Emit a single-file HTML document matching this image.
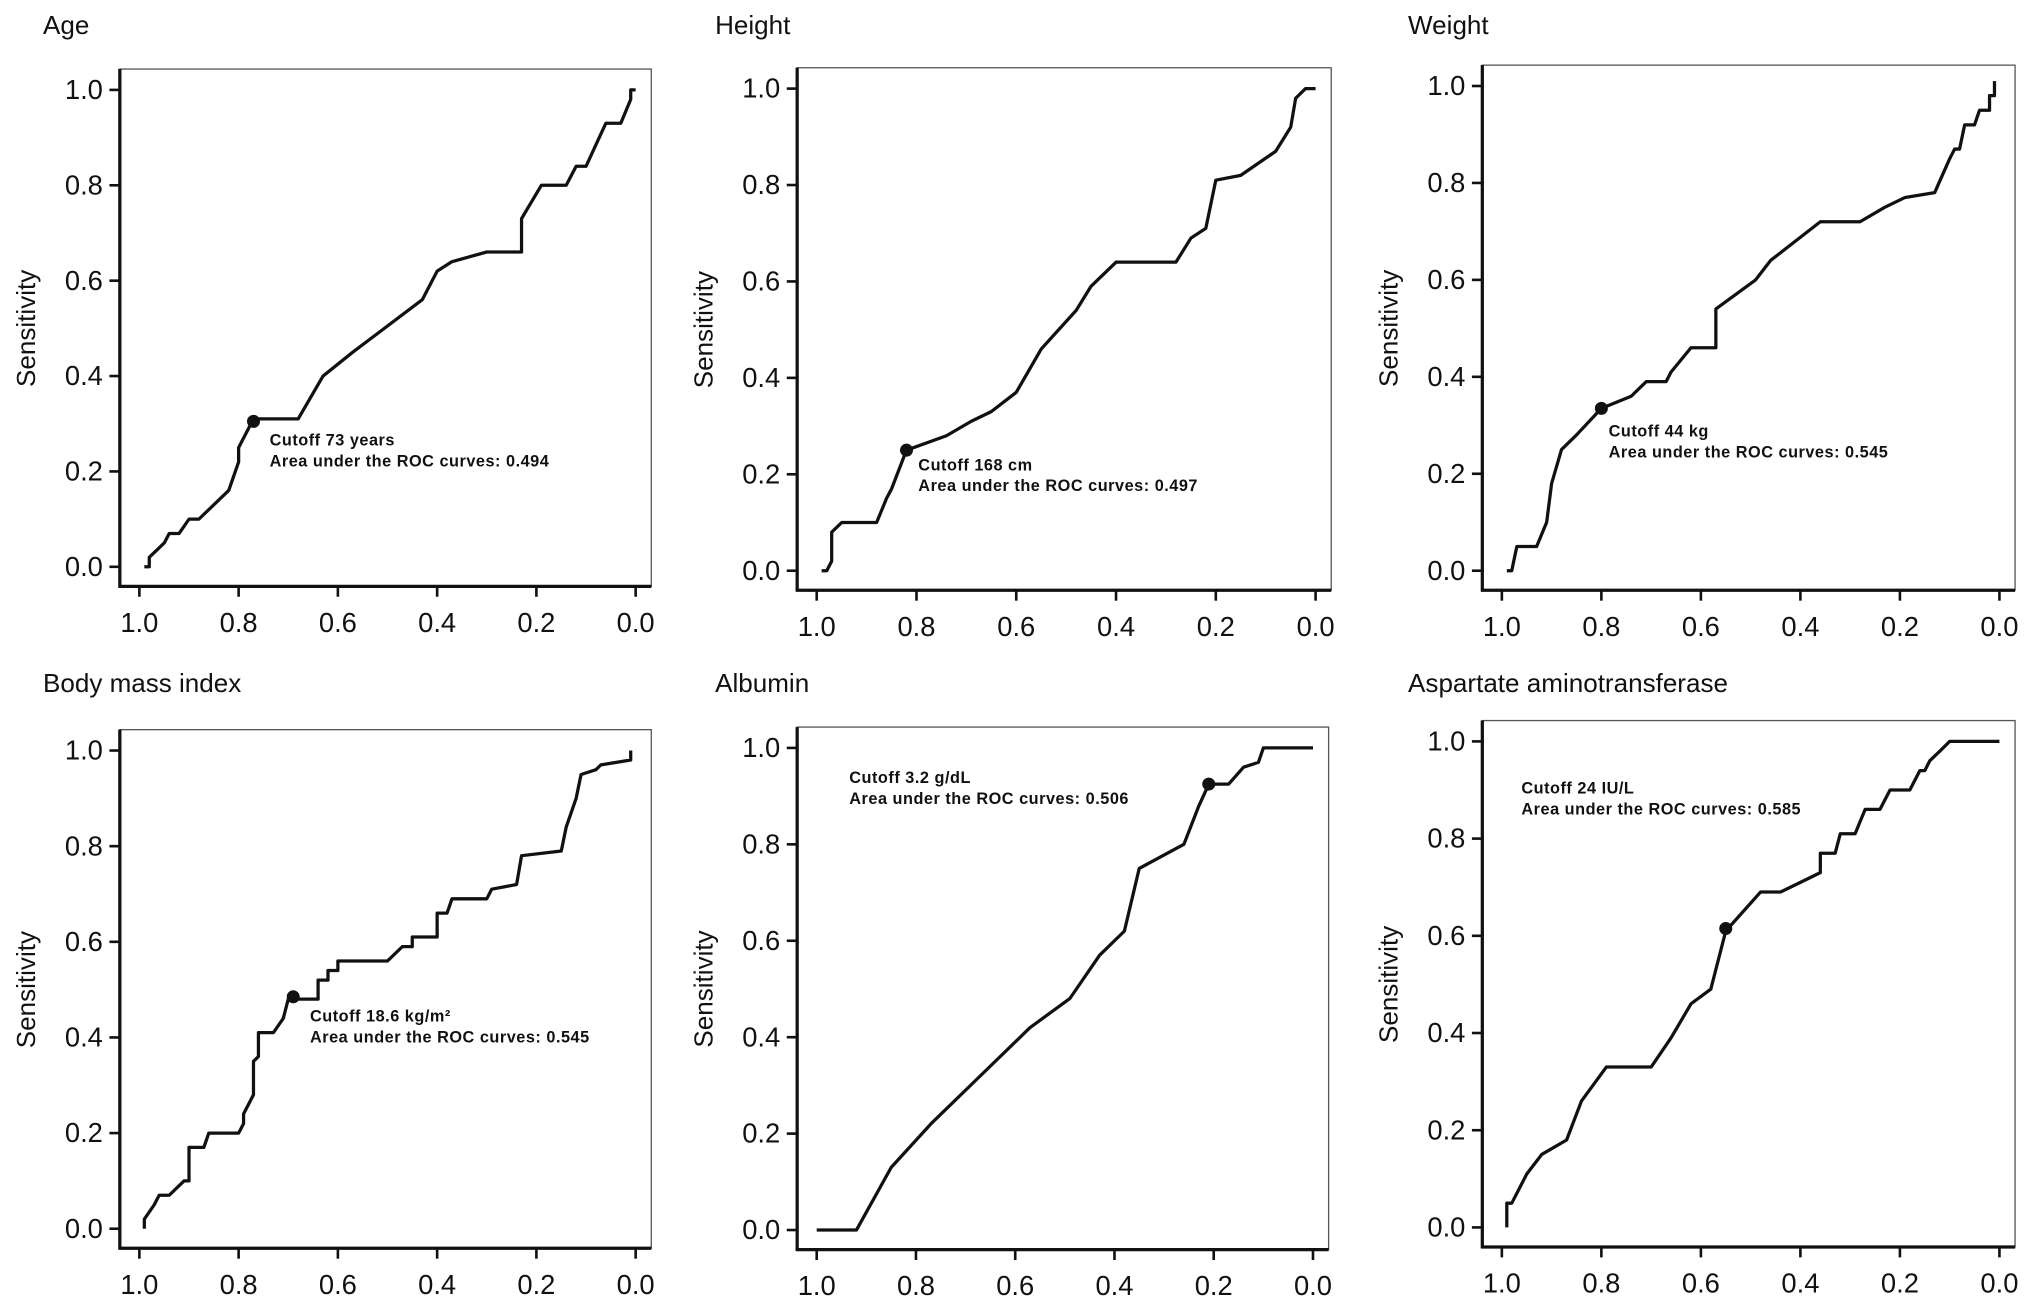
<!DOCTYPE html>
<html><head><meta charset="utf-8"><style>
html,body{margin:0;padding:0;background:#fff}
svg{display:block}
text{font-family:"Liberation Sans",Arial,sans-serif;fill:#111}
</style></head><body>
<svg id="fig" width="2032" height="1303" viewBox="0 0 1560 1000" preserveAspectRatio="none" xmlns="http://www.w3.org/2000/svg"></svg>
<script>
const panelTitles = ["Age","Height","Weight","Body mass index","Albumin","Aspartate aminotransferase"];
const tickLabels = ["1.0","0.8","0.6","0.4","0.2","0.0"];
const tickValues = [1.0,0.8,0.6,0.4,0.2,0.0];
const cutoffTexts = ["Cutoff 73 years","Cutoff 168 cm","Cutoff 44 kg","Cutoff 18.6 kg/m²","Cutoff 3.2 g/dL","Cutoff 24 IU/L"];
const aucValues = ["0.494","0.497","0.545","0.545","0.506","0.585"];
const ageSpec = [0.99,0.98,0.98,0.96,0.95,0.94,0.92,0.90,0.88,0.82,0.80,0.80,0.77,0.68,0.63,0.57,0.43,0.40,0.37,0.30,0.23,0.23,0.19,0.14,0.12,0.10,0.06,0.03,0.01,0.01,0];
const ageSens = [0,0,0.02,0.04,0.05,0.07,0.07,0.10,0.10,0.16,0.22,0.25,0.31,0.31,0.40,0.45,0.56,0.62,0.64,0.66,0.66,0.73,0.80,0.80,0.84,0.84,0.93,0.93,0.98,1.0,1.0];
const heightSpec = [0.99,0.98,0.97,0.97,0.95,0.88,0.86,0.85,0.82,0.74,0.69,0.65,0.60,0.55,0.48,0.45,0.40,0.28,0.25,0.22,0.20,0.15,0.08,0.05,0.04,0.02,0];
const heightSens = [0,0,0.02,0.08,0.10,0.10,0.15,0.17,0.25,0.28,0.31,0.33,0.37,0.46,0.54,0.59,0.64,0.64,0.69,0.71,0.81,0.82,0.87,0.92,0.98,1.0,1.0];
const weightSpec = [0.99,0.98,0.97,0.93,0.91,0.90,0.88,0.85,0.80,0.74,0.71,0.67,0.66,0.62,0.57,0.57,0.49,0.46,0.36,0.28,0.23,0.19,0.13,0.10,0.09,0.08,0.07,0.05,0.04,0.02,0.02,0.01,0.01];
const weightSens = [0,0,0.05,0.05,0.10,0.18,0.25,0.28,0.335,0.36,0.39,0.39,0.41,0.46,0.46,0.54,0.60,0.64,0.72,0.72,0.75,0.77,0.78,0.85,0.87,0.87,0.92,0.92,0.95,0.95,0.98,0.98,1.01];
const bmiSpec = [0.99,0.99,0.97,0.96,0.94,0.92,0.91,0.90,0.90,0.87,0.86,0.80,0.79,0.79,0.78,0.77,0.77,0.76,0.76,0.73,0.71,0.70,0.64,0.64,0.62,0.62,0.60,0.60,0.50,0.47,0.45,0.45,0.40,0.40,0.38,0.37,0.30,0.29,0.24,0.23,0.15,0.14,0.13,0.12,0.11,0.08,0.07,0.01,0.01];
const bmiSens = [0,0.02,0.05,0.07,0.07,0.09,0.10,0.10,0.17,0.17,0.20,0.20,0.22,0.24,0.26,0.28,0.35,0.36,0.41,0.41,0.44,0.48,0.48,0.52,0.52,0.54,0.54,0.56,0.56,0.59,0.59,0.61,0.61,0.66,0.66,0.69,0.69,0.71,0.72,0.78,0.79,0.84,0.87,0.90,0.95,0.96,0.97,0.98,1.0];
const albSpec = [1.0,0.92,0.85,0.77,0.67,0.57,0.49,0.43,0.38,0.35,0.26,0.23,0.21,0.17,0.14,0.11,0.10,0];
const albSens = [0,0,0.13,0.22,0.32,0.42,0.48,0.57,0.62,0.75,0.80,0.88,0.925,0.925,0.96,0.97,1.0,1.0];
const astSpec = [0.99,0.99,0.98,0.95,0.92,0.87,0.84,0.79,0.70,0.66,0.62,0.58,0.55,0.48,0.44,0.40,0.36,0.36,0.33,0.32,0.29,0.27,0.24,0.22,0.18,0.16,0.15,0.14,0.12,0.10,0];
const astSens = [0,0.05,0.05,0.11,0.15,0.18,0.26,0.33,0.33,0.39,0.46,0.49,0.61,0.69,0.69,0.71,0.73,0.77,0.77,0.81,0.81,0.86,0.86,0.90,0.90,0.94,0.94,0.96,0.98,1.0,1.0];
const cutSpec = [0.77,0.82,0.80,0.69,0.21,0.55];
const cutSens = [0.305,0.25,0.335,0.485,0.925,0.615];

const specSeries=[ageSpec,heightSpec,weightSpec,bmiSpec,albSpec,astSpec];
const sensSeries=[ageSens,heightSens,weightSens,bmiSens,albSens,astSens];
const L=[
 {x1:107,x0:488,y1:69,y0:435,tx:33,ty:26,ax:207,ay:342},
 {x1:627,x0:1010,y1:68,y0:438,tx:549,ty:26,ax:705,ay:361},
 {x1:1153,x0:1535,y1:66,y0:438,tx:1081,ty:26,ax:1235,ay:335},
 {x1:107,x0:488,y1:576,y0:943,tx:33,ty:531,ax:238,ay:784},
 {x1:627,x0:1008,y1:574,y0:944,tx:549,ty:531,ax:652,ay:601},
 {x1:1153,x0:1535,y1:569,y0:942,tx:1081,ty:531,ax:1168,ay:609}];
const svg=document.getElementById('fig');
const NS='http://www.w3.org/2000/svg';
function mk(tag,attrs,parent){const e=document.createElementNS(NS,tag);for(const k in attrs)e.setAttribute(k,attrs[k]);parent.appendChild(e);return e;}
L.forEach((p,i)=>{
 const X=s=>p.x0+(p.x1-p.x0)*s;
 const Y=v=>p.y0-(p.y0-p.y1)*v;
 const g=mk('g',{},svg);
 
 
 const t=mk('text',{x:p.tx,y:p.ty,'font-size':20},g);t.textContent=panelTitles[i];
 
 
 const bl=p.x1-15,br=p.x0+12,bt=p.y1-16,bb=p.y0+15;
 const box=mk('rect',{x:bl,y:bt,width:br-bl,height:bb-bt,fill:'none',stroke:'#555','stroke-width':1},g);
 
 
 mk('line',{x1:bl,y1:bt,x2:bl,y2:bb+1,stroke:'#111','stroke-width':2.5},g);
 mk('line',{x1:bl-1,y1:bb,x2:br,y2:bb,stroke:'#111','stroke-width':2.5},g);
 tickValues.forEach((v,k)=>{
  mk('line',{x1:X(v),y1:bb,x2:X(v),y2:bb+8,stroke:'#111','stroke-width':2},g);
  const xl=mk('text',{x:X(v),y:bb+35,'font-size':21,'text-anchor':'middle'},g);xl.textContent=tickLabels[k];
  
  
  mk('line',{x1:bl-8,y1:Y(v),x2:bl,y2:Y(v),stroke:'#111','stroke-width':2},g);
  const yl=mk('text',{x:bl-13,y:Y(v)+7,'font-size':21,'text-anchor':'end'},g);yl.textContent=tickLabels[k];
  
  
 });
 const cy=(p.y0+p.y1)/2;
 const yt=mk('text',{x:0,y:0,'font-size':20,'text-anchor':'middle',transform:`translate(${p.x1-80},${cy}) rotate(-90)`},g);yt.textContent='Sensitivity';
 
 
 const d=specSeries[i].map((s,k)=>(k?'L':'M')+X(s).toFixed(1)+' '+Y(sensSeries[i][k]).toFixed(1)).join(' ');
 const path=mk('path',{d:d,fill:'none',stroke:'#111','stroke-width':2.5,'stroke-linejoin':'round'},g);
 
 
 const c=mk('circle',{cx:X(cutSpec[i]),cy:Y(cutSens[i]),r:5,fill:'#111'},g);
 
 
 const a1=mk('text',{x:p.ax,y:p.ay,'font-size':12.5,'font-weight':'bold',fill:'#222','letter-spacing':0.4},g);a1.textContent=cutoffTexts[i];
 
 
 const a2=mk('text',{x:p.ax,y:p.ay+16,'font-size':12.5,'font-weight':'bold',fill:'#222','letter-spacing':0.4},g);a2.textContent='Area under the ROC curves:  '+aucValues[i];
 
 
});
</script>
</body></html>
